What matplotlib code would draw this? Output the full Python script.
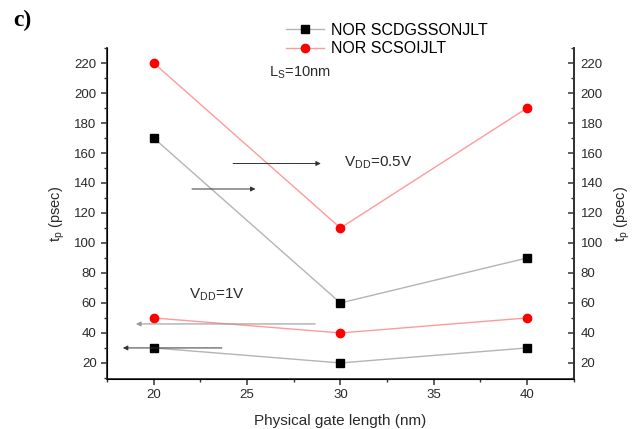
import matplotlib
matplotlib.use("Agg")
import matplotlib.pyplot as plt
from matplotlib.ticker import MultipleLocator

plt.rcParams['font.family'] = ['Liberation Sans', 'DejaVu Sans']
plt.rcParams['mathtext.fontset'] = 'custom'
plt.rcParams['mathtext.rm'] = 'Liberation Sans'

gate_length = [20, 30, 40]
scdg_05 = [170, 60, 90]
scsoi_05 = [220, 110, 190]
scdg_1 = [30, 20, 30]
scsoi_1 = [50, 40, 50]
labels = ["NOR SCDGSSONJLT", "NOR SCSOIJLT"]

fig = plt.figure(figsize=(6.39, 4.29), dpi=100)
ax = fig.add_axes([0.1675, 0.1166, 0.7305, 0.7714])

grey_line = '#b4b4b4'
red_line = '#ff9a9a'
txt = '#2a2a2a'

l1, = ax.plot(gate_length, scdg_05, color=grey_line, lw=1.0, marker='s', ms=5.5,
              mfc='black', mec='black', label=labels[0], zorder=3)
l2, = ax.plot(gate_length, scsoi_05, color=red_line, lw=1.0, marker='o', ms=6,
              mfc='red', mec='red', label=labels[1], zorder=3)
ax.plot(gate_length, scdg_1, color=grey_line, lw=1.0, marker='s', ms=5.5,
        mfc='black', mec='black', zorder=3)
ax.plot(gate_length, scsoi_1, color=red_line, lw=1.0, marker='o', ms=6,
        mfc='red', mec='red', zorder=3)

ax.set_xlim(17.5, 42.5)
ax.set_ylim(9.3, 230)
ax.set_xticks([20, 25, 30, 35, 40])
ax.set_yticks(range(20, 221, 20))
ax.xaxis.set_minor_locator(MultipleLocator(2.5))
ax.yaxis.set_minor_locator(MultipleLocator(10))
ax.spines['top'].set_visible(False)
for s in ['left', 'bottom', 'right']:
    ax.spines[s].set_linewidth(1.3)
    ax.spines[s].set_color('#333333')
ax.tick_params(axis='both', which='major', direction='out', length=4, width=1.1,
               labelsize=9.5, colors='#333333', labelcolor=txt)
ax.tick_params(axis='both', which='minor', direction='out', length=2.5, width=1.0,
               colors='#333333')

ax2 = ax.twinx()
ax2.set_ylim(ax.get_ylim())
ax2.set_yticks(range(20, 221, 20))
ax2.yaxis.set_minor_locator(MultipleLocator(10))
ax2.spines['top'].set_visible(False)
ax2.spines['right'].set_linewidth(1.3)
ax2.spines['right'].set_color('#333333')
ax2.tick_params(axis='y', which='major', direction='in', length=4, width=1.1,
                labelsize=9.5, colors='#333333', labelcolor=txt, pad=5)
ax2.tick_params(axis='y', which='minor', direction='in', length=2.5, width=1.0,
                colors='#333333')

ax.set_xlabel("Physical gate length (nm)", fontsize=11, color=txt, labelpad=9)
ax.set_ylabel(r"t$_\mathregular{p}$ (psec)", fontsize=10.5, color=txt, labelpad=5)
ax2.set_ylabel(r"t$_\mathregular{p}$ (psec)", fontsize=10.5, color=txt,
               rotation=90, labelpad=7)

ax.legend(handles=[l1, l2], loc='upper left', bbox_to_anchor=(0.37, 1.095),
          frameon=False, fontsize=11.5, handlelength=2.4, borderaxespad=0,
          labelspacing=0.2, handletextpad=0.4)

ax.text(26.2, 211, r"L$_\mathregular{S}$=10nm", fontsize=10.5, color=txt)
ax.text(30.2, 151, r"V$_\mathregular{DD}$=0.5V", fontsize=11, color=txt)
ax.text(21.9, 63, r"V$_\mathregular{DD}$=1V", fontsize=11, color=txt)

arrow_kw = dict(arrowstyle='-|>', color='#333333', lw=0.7, mutation_scale=7)
ax.annotate('', xy=(29.1, 153), xytext=(24.1, 153), arrowprops=arrow_kw)
ax.annotate('', xy=(25.6, 136), xytext=(21.9, 136), arrowprops=arrow_kw)
ax.annotate('', xy=(18.9, 46), xytext=(28.8, 46),
            arrowprops=dict(arrowstyle='-|>', color='#999999', lw=0.8, mutation_scale=7))
ax.annotate('', xy=(18.2, 30), xytext=(23.8, 30), arrowprops=arrow_kw)

fig.text(0.02, 0.953, "c)", fontsize=17, fontweight='bold',
         family='Liberation Serif', va='center', ha='left')

fig.savefig("out.png", dpi=100)
